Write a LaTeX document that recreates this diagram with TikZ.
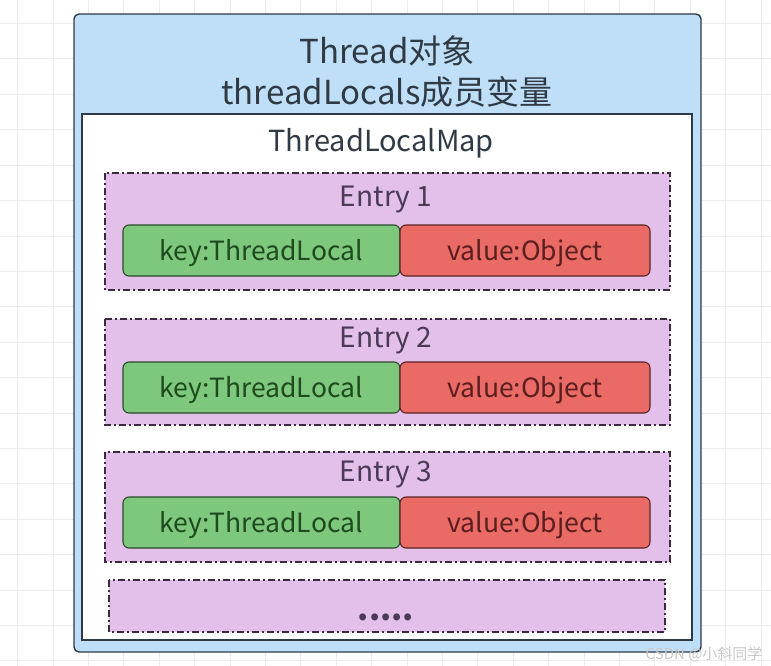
\documentclass[tikz,border=0pt]{standalone}
\usepackage{fontspec}
\setmainfont{Noto Sans CJK SC}
\usetikzlibrary{calc}
\definecolor{gridc}{HTML}{ECECEC}
\definecolor{outerfill}{HTML}{BFDFF8}
\definecolor{outerdraw}{HTML}{2E3A46}
\definecolor{entryfill}{HTML}{E3C0EA}
\definecolor{entrydraw}{HTML}{3A2A3E}
\definecolor{keyfill}{HTML}{7EC87E}
\definecolor{keydraw}{HTML}{2A4A2A}
\definecolor{valfill}{HTML}{EA6B66}
\definecolor{valdraw}{HTML}{5A2424}
\definecolor{titletext}{HTML}{2F3A44}
\definecolor{entrytext}{HTML}{4A3A55}
\definecolor{keytext}{HTML}{1E4A1E}
\definecolor{valtext}{HTML}{5A1E1E}
\definecolor{wmtext}{HTML}{C8C8C8}
\tikzset{
  outerbox/.style={draw=outerdraw, fill=outerfill, line width=1.4pt, rounded corners=5pt},
  innerbox/.style={draw=outerdraw, fill=white, line width=1.2pt},
  entrybox/.style={draw=entrydraw, fill=entryfill, line width=1.3pt, dash pattern=on 7pt off 3pt on 2pt off 3pt},
  keybox/.style={draw=keydraw, fill=keyfill, line width=1.1pt, rounded corners=6pt},
  valbox/.style={draw=valdraw, fill=valfill, line width=1.1pt, rounded corners=6pt},
  keylabel/.style={text=keytext, font=\fontsize{26.5}{30}\selectfont},
  vallabel/.style={text=valtext, font=\fontsize{26.5}{30}\selectfont},
  entrylabel/.style={text=entrytext, font=\fontsize{28}{32}\selectfont},
}
\begin{document}
\begin{tikzpicture}[x=1pt,y=-1pt]
\useasboundingbox (0,0) rectangle (771,666);
% grid background
\foreach \gx in {17.5,52.9,...,771} { \draw[gridc, line width=0.8pt] (\gx,0) -- (\gx,666); }
\foreach \gy in {23.5,58.9,...,666} { \draw[gridc, line width=0.8pt] (0,\gy) -- (771,\gy); }
% outer Thread box
\draw[outerbox] (74,14) rectangle (701,652);
\node[text=titletext, font=\fontsize{33}{41}\selectfont, align=center] (title) at (387,71.5) {Thread对象\\threadLocals成员变量};
% inner map box
\draw[innerbox] (82,114) rectangle (692,640);
\node[text=titletext, font=\fontsize{29}{32}\selectfont] (maplabel) at (381,143) {ThreadLocalMap};
% entries
\foreach \i/\ty/\by/\ly/\ky/\kb in {1/173/290/200/225/276, 2/319/425/341/362/413, 3/452/562/475/497/548} {
  \draw[entrybox] (105,\ty) rectangle (670,\by);
  \node[entrylabel] (entry\i) at (386,\ly) {Entry \i};
  \draw[keybox] (123,\ky) rectangle (400,\kb);
  \draw[valbox] (400,\ky) rectangle (650,\kb);
  \node[keylabel] (key\i) at (261,{(\ky+\kb)/2+3}) {key:ThreadLocal};
  \node[vallabel] (val\i) at (525,{(\ky+\kb)/2+3}) {value:Object};
}
\draw[entrybox] (109,580) rectangle (665,632);
\node[text=entrytext, font=\fontsize{32}{34}\selectfont\bfseries] (dots) at (386,617) {.....};
% watermark
\node[text=wmtext, font=\fontsize{15}{17}\selectfont, anchor=east] (wm) at (766,654) {CSDN @小斜同学};
\end{tikzpicture}
\end{document}
